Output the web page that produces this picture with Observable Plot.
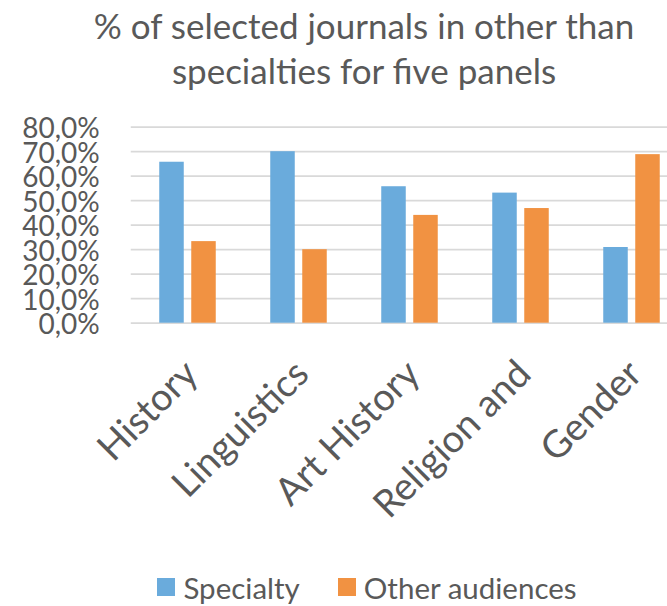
<!DOCTYPE html>
<html>
<head>
<meta charset="utf-8">
<script src="https://cdn.jsdelivr.net/npm/d3@7"></script>
<script src="https://cdn.jsdelivr.net/npm/@observablehq/plot@0.6"></script>
<style>
  html, body { margin: 0; padding: 0; background: #fff; }
  #chart { position: relative; width: 667px; height: 606px; overflow: hidden; font-family: Lato, "Open Sans", sans-serif; color: #595959; }
  #title { position: absolute; left: 0; top: 3px; width: 728px; text-align: center; font-size: 35px; line-height: 45px; }
  #plot { position: absolute; left: 0; top: 108px; }
  #legend { position: absolute; left: 3px; top: 564px; width: 728px; height: 46px; display: flex; justify-content: center; align-items: center; font-size: 29.5px; gap: 38px; }
  .item { display: flex; align-items: center; }
  .swatch { width: 18px; height: 18px; margin-right: 8px; }
</style>
</head>
<body>
<div id="chart">
  <div id="title">% of selected journals in other than<br>specialties for five panels</div>
  <div id="plot"></div>
  <div id="legend"></div>
</div>
<script>
const categories = ["History", "Linguistics", "Art History", "Religion and", "Gender"];
const specialty = [65.7, 70.0, 55.7, 53.1, 30.9];
const otherAudiences = [33.3, 30.0, 44.0, 46.8, 68.8];
const seriesNames = ["Specialty", "Other audiences"];
const seriesColors = ["#6AABDC", "#F19242"];
const yTicks = [0, 10, 20, 30, 40, 50, 60, 70, 80];
const yTickLabels = ["0,0%", "10,0%", "20,0%", "30,0%", "40,0%", "50,0%", "60,0%", "70,0%", "80,0%"];

const data = categories.flatMap((c, i) => [
  {category: c, series: seriesNames[0], value: specialty[i]},
  {category: c, series: seriesNames[1], value: otherAudiences[i]}
]);

const textColor = "#595959";
const chart = Plot.plot({
  width: 667,
  height: 450,
  marginTop: 18.7,
  marginBottom: 235.3,
  marginLeft: 130.75,
  marginRight: 0,
  style: {fontFamily: "Lato, 'Open Sans', sans-serif", color: textColor, background: "white"},
  x: {domain: categories, range: [130.75, 688], padding: 0, axis: null},
  y: {domain: [0, 80], axis: null},
  color: {domain: seriesNames, range: seriesColors},
  marks: [
    Plot.ruleY(yTicks, {stroke: "#D9D9D9", strokeWidth: 1.8}),
    Plot.barY(data.filter(d => d.series === seriesNames[0]), {x: "category", y: "value", fill: "series", insetLeft: 27.25, insetRight: 59.25}),
    Plot.barY(data.filter(d => d.series === seriesNames[1]), {x: "category", y: "value", fill: "series", insetLeft: 59.25, insetRight: 27.25}),
    Plot.text(yTicks, {y: d => d, text: (d, i) => yTickLabels[i], frameAnchor: "left", textAnchor: "end", dx: -31.5, dy: 2, fontSize: 28, fill: textColor}),
    Plot.text(categories, {x: d => d, text: d => d, frameAnchor: "bottom", rotate: -45, textAnchor: "end", dx: 12, dy: 53, fontSize: 38, fill: textColor})
  ]
});
document.getElementById("plot").appendChild(chart);

const legend = document.getElementById("legend");
seriesNames.forEach((name, i) => {
  const item = document.createElement("div");
  item.className = "item";
  const sw = document.createElement("span");
  sw.className = "swatch";
  sw.style.background = seriesColors[i];
  const label = document.createElement("span");
  label.textContent = name;
  item.appendChild(sw);
  item.appendChild(label);
  legend.appendChild(item);
});
</script>
</body>
</html>
